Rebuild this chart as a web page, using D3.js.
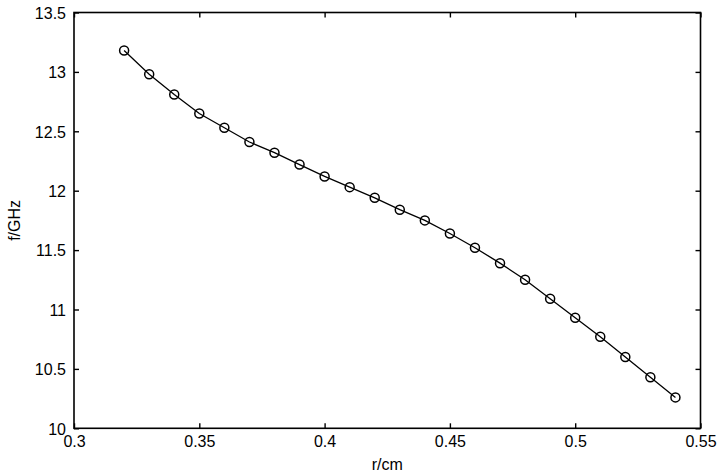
<!DOCTYPE html>
<html><head><meta charset="utf-8">
<script src="https://cdn.jsdelivr.net/npm/d3@7"></script>
<style>body{margin:0;background:#fff}svg{display:block}text{font-family:"Liberation Sans",Arial,sans-serif;fill:#000}</style>
</head><body><svg id="c" width="720" height="474"></svg>
<script>
const rValues = [0.32,0.33,0.34,0.35,0.36,0.37,0.38,0.39,0.40,0.41,0.42,0.43,0.44,0.45,0.46,0.47,0.48,0.49,0.50,0.51,0.52,0.53,0.54];
const fValues = [13.18,12.98,12.81,12.65,12.53,12.41,12.32,12.22,12.12,12.03,11.94,11.84,11.75,11.64,11.52,11.39,11.25,11.09,10.93,10.77,10.60,10.43,10.26];
const xTicks = [0.3,0.35,0.4,0.45,0.5,0.55];
const xTickLabels = ["0.3","0.35","0.4","0.45","0.5","0.55"];
const yTicks = [10,10.5,11,11.5,12,12.5,13,13.5];
const yTickLabels = ["10","10.5","11","11.5","12","12.5","13","13.5"];
const xLabel = "r/cm", yLabel = "f/GHz";

const L=74, R=700.5, T=12.5, B=428.3;
const svg = d3.select("#c");
const x = d3.scaleLinear().domain([0.3,0.55]).range([L,R]);
const y = d3.scaleLinear().domain([10,13.5]).range([B,T]);
const tk=5;

const gb = svg.append("g").attr("transform",`translate(0,${B})`)
  .call(d3.axisBottom(x).tickValues(xTicks).tickFormat((d,i)=>xTickLabels[i]).tickSize(-tk).tickPadding(7));
const gt = svg.append("g").attr("transform",`translate(0,${T})`)
  .call(d3.axisTop(x).tickValues(xTicks).tickFormat("").tickSize(-tk));
const gl = svg.append("g").attr("transform",`translate(${L},0)`)
  .call(d3.axisLeft(y).tickValues(yTicks).tickFormat((d,i)=>yTickLabels[i]).tickSize(-tk).tickPadding(8));
const gr = svg.append("g").attr("transform",`translate(${R},0)`)
  .call(d3.axisRight(y).tickValues(yTicks).tickFormat("").tickSize(-tk));
[gb,gt,gl,gr].forEach(g=>{
  g.select(".domain").remove();
  g.selectAll(".tick line").attr("stroke","#000").attr("stroke-width",1.4);
  g.selectAll("text").attr("font-size",16).attr("fill","#000").attr("font-family","Liberation Sans, Arial, sans-serif");
});
gb.selectAll(".tick text").attr("dy","0.71em");
gl.selectAll(".tick text").attr("dy","0.36em");

svg.append("rect").attr("x",L).attr("y",T).attr("width",R-L).attr("height",B-T)
  .attr("fill","none").attr("stroke","#000").attr("stroke-width",1.6);

const pts = rValues.map((r,i)=>[r,fValues[i]]);
svg.append("path").datum(pts)
  .attr("d",d3.line().x(d=>x(d[0])).y(d=>y(d[1])))
  .attr("fill","none").attr("stroke","#000").attr("stroke-width",1.3);
svg.append("g").selectAll("circle").data(pts).join("circle")
  .attr("cx",d=>x(d[0])).attr("cy",d=>y(d[1])).attr("r",4.5)
  .attr("fill","none").attr("stroke","#000").attr("stroke-width",1.5);

svg.append("text").attr("x",(L+R)/2).attr("y",470).attr("text-anchor","middle").attr("font-size",16).text(xLabel);
svg.append("text").attr("transform",`translate(20,${(T+B)/2}) rotate(-90)`).attr("text-anchor","middle").attr("font-size",16).text(yLabel);
</script></body></html>
